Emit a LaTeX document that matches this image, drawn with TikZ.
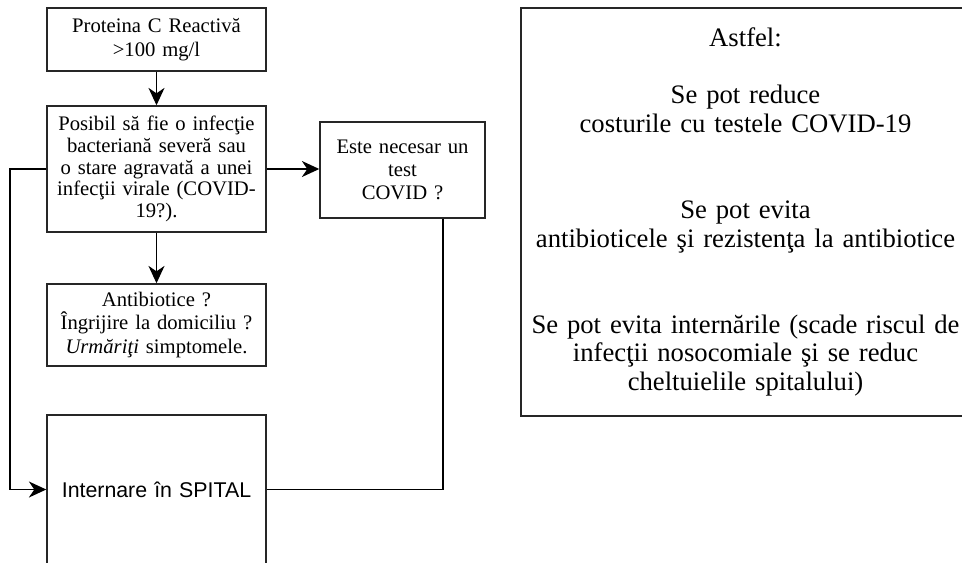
\documentclass[tikz,border=0pt]{standalone}
\usepackage{fontspec}
\setmainfont{Liberation Serif}
\setsansfont{Liberation Sans}
\usepackage{xcolor}
\usetikzlibrary{arrows.meta,calc,positioning}

\begin{document}
\begin{tikzpicture}[
  x=0.75pt, y=-0.75pt,
  box/.style={draw=black!85, line width=1.1pt, fill=white, align=center,
    inner sep=2pt, minimum width=164.25pt, text width=158pt,
    font=\fontsize{15.5}{17.5}\selectfont},
  tight/.style={font=\fontsize{15.5}{16.3}\selectfont},
  sidebox/.style={draw=black!85, line width=1.1pt, fill=white, align=center,
    minimum width=336.75pt, minimum height=306pt, text width=330pt,
    font=\fontsize{20}{21.5}\selectfont},
  link/.style={line width=1.1pt, draw=black},
  arrow/.style={link, arrows={-Stealth[length=13pt, width=12pt, inset=4pt]}}
]
  \clip (0,0) rectangle (962,562);

  \node[box, minimum height=47.25pt] (protein) at (156.5,39.5)
    {Proteina C Reactivă\\>100 mg/l};
  \node[box, tight, minimum height=94.5pt] (infection) at (156.5,169)
    {Posibil să fie o infecţie\\bacteriană severă sau\\o stare agravată a unei\\infecţii virale (COVID-\\19?).};
  \node[box, minimum width=123.75pt, text width=118pt, minimum height=72pt] (covidtest) at (402.5,170)
    {Este necesar un\\test\\COVID ?};
  \node[box, minimum height=61.5pt] (homecare) at (156.5,325)
    {Antibiotice ?\\Îngrijire la domiciliu ?\\\textit{Urmăriţi} simptomele.};
  \node[box, minimum height=111.75pt, font=\sffamily\fontsize{16}{19}\selectfont] (hospital) at (156.5,489.5)
    {Internare în SPITAL};
  \node[sidebox] (benefits) at (745.5,212)
    {Astfel:\\[21.5pt]
     Se pot reduce\\costurile cu testele COVID-19\\[43pt]
     Se pot evita\\antibioticele şi rezistenţa la antibiotice\\[43pt]
     Se pot evita internările (scade riscul de\\infecţii nosocomiale şi se reduc\\cheltuielile spitalului)};

  \coordinate (leftrail) at (10,0);
  \coordinate (testrail) at (443,0);

  \draw[arrow] (protein) -- (infection);
  \draw[arrow] (infection.east) -- (infection.east -| covidtest.west);
  \draw[arrow] (infection) -- (homecare);
  \draw[arrow] (infection.west) -- (infection.west -| leftrail) |- (hospital.west);
  \draw[link] (covidtest.south -| testrail) |- (hospital.east);
\end{tikzpicture}
\end{document}
